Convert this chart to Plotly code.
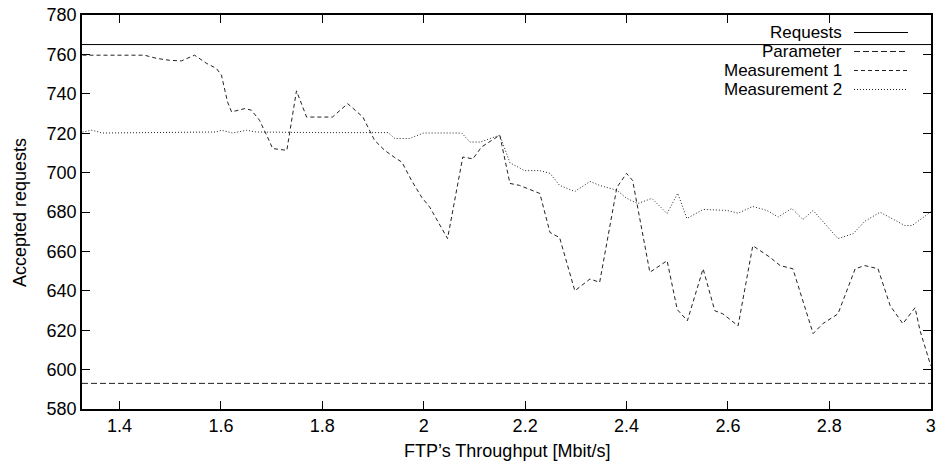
import plotly.graph_objects as go

# ---------------- data ----------------
series_names = ["Requests", "Parameter", "Measurement 1", "Measurement 2"]

x_range = [1.326, 3.0005]
requests_value = 765
parameter_value = 593

m1_x = [1.327, 1.36, 1.40, 1.449, 1.473, 1.499, 1.522, 1.548, 1.572, 1.591, 1.601,
        1.613, 1.621, 1.647, 1.660, 1.676, 1.692, 1.702, 1.730, 1.749, 1.769, 1.820,
        1.850, 1.880, 1.903, 1.923, 1.943, 1.957, 1.976, 1.996, 2.012, 2.047, 2.077,
        2.097, 2.114, 2.150, 2.170, 2.189, 2.229, 2.249, 2.268, 2.298, 2.328, 2.347,
        2.381, 2.400, 2.412, 2.446, 2.480, 2.500, 2.520, 2.551, 2.574, 2.590, 2.620,
        2.649, 2.683, 2.703, 2.728, 2.768, 2.787, 2.817, 2.851, 2.870, 2.896, 2.920,
        2.945, 2.969, 2.979, 3.000]
m1_y = [759.6, 759.6, 759.6, 759.6, 758.0, 757.0, 756.7, 759.6, 755.4, 752.9, 749.5,
        735.9, 730.8, 732.5, 731.7, 726.6, 718.0, 712.2, 711.3, 741.5, 728.2, 728.2,
        735.0, 728.2, 716.4, 711.3, 707.6, 705.3, 696.0, 687.5, 682.4, 666.5, 707.9,
        707.0, 713.0, 719.0, 694.5, 693.5, 689.4, 669.6, 667.0, 640.0, 646.0, 644.3,
        692.5, 699.6, 696.0, 649.4, 655.3, 630.5, 624.8, 651.2, 629.9, 628.3, 622.2,
        662.9, 657.0, 652.8, 651.2, 618.3, 623.3, 628.3, 651.2, 652.8, 651.2, 632.4,
        623.3, 631.4, 619.7, 602.0]

m2_x = [1.327, 1.345, 1.367, 1.45, 1.591, 1.601, 1.623, 1.651, 1.670, 1.80, 1.930,
        1.943, 1.972, 2.000, 2.075, 2.091, 2.111, 2.131, 2.150, 2.170, 2.199, 2.229,
        2.249, 2.268, 2.298, 2.328, 2.347, 2.381, 2.400, 2.422, 2.450, 2.480, 2.501,
        2.519, 2.551, 2.598, 2.620, 2.649, 2.677, 2.699, 2.726, 2.748, 2.768, 2.817,
        2.847, 2.870, 2.900, 2.949, 2.963, 3.000]
m2_y = [720.6, 721.5, 720.1, 720.2, 720.6, 721.5, 720.1, 721.5, 720.6, 720.3, 720.3,
        717.3, 717.3, 720.1, 720.1, 715.5, 715.5, 717.3, 719.0, 705.0, 701.0, 701.0,
        699.6, 693.5, 690.4, 695.5, 693.5, 691.0, 687.0, 684.3, 686.9, 679.2, 689.5,
        676.7, 681.3, 680.8, 679.4, 682.8, 680.8, 677.4, 681.8, 676.2, 680.8, 666.5,
        669.0, 675.3, 679.9, 673.1, 673.1, 680.0]

x_tick_vals = [1.4, 1.6, 1.8, 2.0, 2.2, 2.4, 2.6, 2.8, 3.0]
x_tick_text = ["1.4", "1.6", "1.8", "2", "2.2", "2.4", "2.6", "2.8", "3"]
y_tick_vals = [580, 600, 620, 640, 660, 680, 700, 720, 740, 760, 780]
y_range = [580, 780]

x_title = "FTP\u2019s Throughput [Mbit/s]"
y_title = "Accepted requests"

# ---------------- styles ----------------
FONT = "Liberation Sans, Arial, Helvetica, sans-serif"
FS = 18
FS_LEG = 17
dashes = ["solid", "6px,3px", "4px,3px", "1px,2px"]
widths = [1.0, 1.0, 1.0, 1.0]
colors = ["black", "#222222", "#222222", "#222222"]

fig = go.Figure()

series = [
    ([x_range[0], x_range[1]], [requests_value, requests_value]),
    ([x_range[0], x_range[1]], [parameter_value, parameter_value]),
    (m1_x, m1_y),
    (m2_x, m2_y),
]
for (xs, ys), name, dash, w, c in zip(series, series_names, dashes, widths, colors):
    fig.add_trace(go.Scatter(x=xs, y=ys, mode="lines", name=name,
                             line=dict(color=c, width=w, dash=dash),
                             showlegend=False))

W, H = 936, 467
ml, mr, mt, mb = 82, 5, 15, 58
pw, ph = W - ml - mr, H - mt - mb

def px_to_paper_x(px):
    return (px - ml) / pw

def px_to_paper_y(py):
    return (H - mb - py) / ph

# manual legend (text on left, sample line on right, like gnuplot)
annotations = []
shapes = []
row_top = 32.5
row_step = 19
for i, (name, dash, c) in enumerate(zip(series_names, dashes, colors)):
    yy = px_to_paper_y(row_top + i * row_step)
    annotations.append(dict(x=px_to_paper_x(843), y=yy, xref="paper", yref="paper",
                            text=name, showarrow=False, xanchor="right", yanchor="middle",
                            borderpad=0,
                            font=dict(family=FONT, size=FS_LEG, color="black")))
    shapes.append(dict(type="line", xref="paper", yref="paper",
                       x0=px_to_paper_x(854), x1=px_to_paper_x(908), y0=yy, y1=yy,
                       line=dict(color=c, width=1.0, dash=dash)))

# axis titles
annotations.append(dict(x=0.5, y=px_to_paper_y(451), xref="paper", yref="paper",
                        text=x_title, showarrow=False, xanchor="center", yanchor="middle",
                        font=dict(family=FONT, size=FS, color="black")))
annotations.append(dict(x=px_to_paper_x(20), y=0.5, xref="paper", yref="paper",
                        text=y_title, showarrow=False, xanchor="center", yanchor="middle",
                        textangle=-90, font=dict(family=FONT, size=FS, color="black")))

axis_common = dict(showgrid=False, zeroline=False, showline=True, linecolor="black",
                   linewidth=1.5, mirror="ticks", ticks="inside", ticklen=8,
                   tickcolor="black", tickwidth=1.2, ticklabeloverflow="allow",
                   tickfont=dict(family=FONT, size=FS, color="black"))

fig.update_layout(
    width=W, height=H,
    margin=dict(l=ml, r=mr, t=mt, b=mb, pad=0),
    paper_bgcolor="white", plot_bgcolor="white",
    xaxis=dict(range=x_range, tickvals=x_tick_vals, ticktext=x_tick_text,
               automargin=False, **axis_common),
    yaxis=dict(range=y_range, tickvals=y_tick_vals, automargin=False, **axis_common),
    annotations=annotations, shapes=shapes,
    showlegend=False,
)

fig.write_html("out.html")
